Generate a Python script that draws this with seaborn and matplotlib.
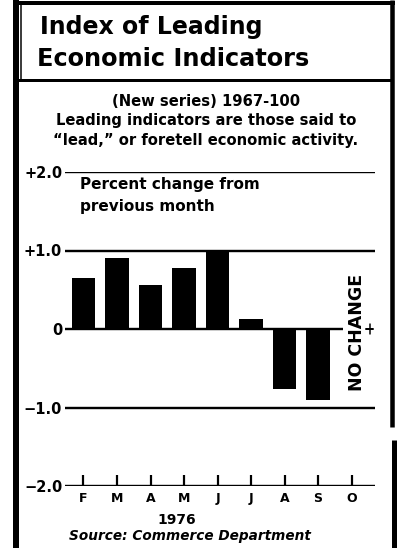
import matplotlib
matplotlib.use("Agg")
import matplotlib.pyplot as plt
import pandas as pd
import seaborn as sns
from matplotlib.lines import Line2D

# Monthly percent change of the leading indicators index, Feb-Oct 1976
months = ["F", "M", "A", "M", "J", "J", "A", "S", "O"]
pct_change = [0.65, 0.90, 0.56, 0.78, 1.00, 0.13, -0.77, -0.90, 0.0]
y_ticks = [-2.0, -1.0, 0.0, 1.0, 2.0]
y_tick_labels = ["\u22122.0", "\u22121.0", "0", "+1.0", "+2.0"]
year_label = "1976"

title_lines = ["Index of Leading", "Economic Indicators"]
subtitle_lines = [
    "(New series) 1967-100",
    "Leading indicators are those said to",
    "\u201clead,\u201d or foretell economic activity.",
]
unit_lines = ["Percent change from", "previous month"]
source = "Source: Commerce Department"

sns.set_style("white")
plt.rcParams["font.family"] = ["DejaVu Sans"]
plt.rcParams["text.color"] = "black"
plt.rcParams["xtick.color"] = "black"
plt.rcParams["ytick.color"] = "black"
plt.rcParams["axes.labelcolor"] = "black"

W, H = 400, 548
fig = plt.figure(figsize=(W / 100, H / 100), dpi=100)
fig.patch.set_facecolor("white")


def fx(px):
    return px / W


def fy(py):
    return 1 - py / H


def pt(px):
    return px * 72 / 100


# plotting area: +2.0 at y=172 px, -2.0 at y=486 px
ax = fig.add_axes([fx(65), fy(486), fx(375) - fx(65), fy(172) - fy(486)])
ax.set_facecolor("white")

df = pd.DataFrame({"slot": list(range(len(months))), "value": pct_change})
sns.barplot(data=df, x="slot", y="value", color="black", width=0.69,
            saturation=1, linewidth=0, ax=ax, zorder=2)

x_lo, x_hi = -0.552, 8.70
ax.set_xlim(x_lo, x_hi)
ax.set_ylim(-2.0, 2.0)

for s in ax.spines.values():
    s.set_visible(False)

# reference lines
for y in [2.0, 1.0, -1.0, -2.0]:
    ax.axhline(y, color="black", lw=pt(2.4), zorder=1)
ax.plot([x_lo, 7.75], [0, 0], color="black", lw=pt(2.4), zorder=1,
        solid_capstyle="butt")
ax.plot([8.42, 8.65], [0, 0], color="black", lw=pt(2), zorder=1)
ax.plot([8.55, 8.55], [-0.06, 0.06], color="black", lw=pt(1.5), zorder=1)

ax.set_xticks(range(len(months)))
ax.set_xticklabels(months, fontsize=9, fontweight="bold", color="black")
ax.tick_params(axis="x", direction="in", length=pt(11), width=pt(2.2),
               color="black", labelcolor="black", pad=4, bottom=True)
ax.set_yticks(y_ticks)
ax.set_yticklabels(y_tick_labels, fontsize=10.5, fontweight="bold",
                   color="black")
ax.tick_params(axis="y", length=0, pad=2, labelcolor="black")
ax.set_xlabel("")
ax.set_ylabel("")
ax.grid(False)

ax.text(8.15, -0.05, "NO CHANGE", rotation=90, ha="center", va="center",
        fontsize=12.5, fontweight="bold", color="black")

# header
fig.text(fx(40), fy(27), title_lines[0], ha="left", va="center",
         fontsize=17, fontweight="bold", color="black")
fig.text(fx(37), fy(59), title_lines[1], ha="left", va="center",
         fontsize=17.3, fontweight="bold", color="black")
for txt, y in zip(subtitle_lines, [101, 121, 140]):
    fig.text(fx(206), fy(y), txt, ha="center", va="center",
             fontsize=10.6, fontweight="bold", color="black")
fig.text(fx(80), fy(185), unit_lines[0], ha="left", va="center",
         fontsize=11, fontweight="bold", color="black")
fig.text(fx(80), fy(207), unit_lines[1], ha="left", va="center",
         fontsize=11, fontweight="bold", color="black")
fig.text(fx(177), fy(520), year_label, ha="center", va="center",
         fontsize=10, fontweight="bold", color="black")
fig.text(fx(190), fy(536), source, ha="center", va="center",
         fontsize=9.8, fontweight="bold", style="italic", color="black")

# box rules
frame = [
    ((16, 0), (16, 548), 6),
    ((20.5, 2), (20.5, 82), 1.5),
    ((14, 2.5), (395, 2.5), 4),
    ((18, 80), (393, 80), 3),
    ((392, 0), (392, 427), 4.5),
    ((394, 440), (394, 548), 5),
]
for (x0, y0), (x1, y1), lw in frame:
    fig.add_artist(Line2D([fx(x0), fx(x1)], [fy(y0), fy(y1)],
                          transform=fig.transFigure, color="black",
                          lw=pt(lw), solid_capstyle="butt"))

fig.savefig("out.png", dpi=100, facecolor="white")
